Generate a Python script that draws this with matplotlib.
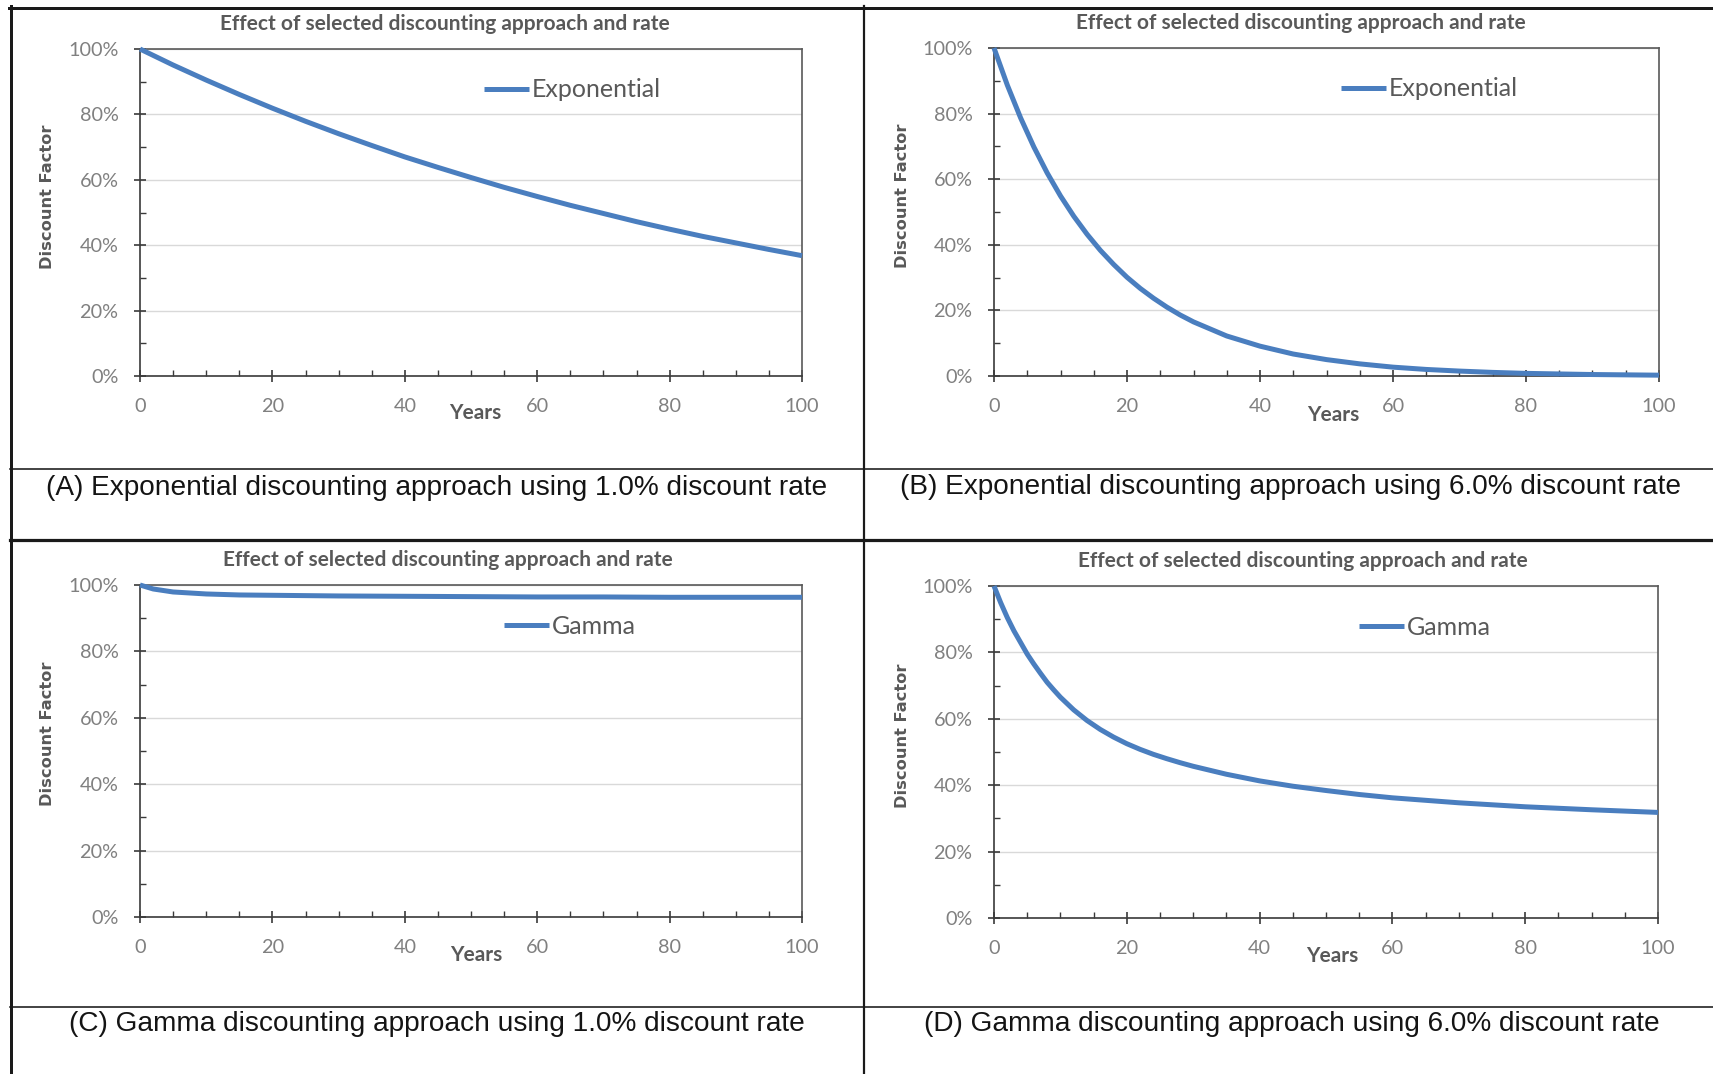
"""Four-panel discounting comparison laid out like a captioned 2x2 table."""
import matplotlib
matplotlib.use("Agg")
import matplotlib.pyplot as plt
from matplotlib.lines import Line2D
from matplotlib.ticker import MultipleLocator, FuncFormatter

# values (discount factor in %)
exp1_years = [0, 5, 10, 15, 20, 25, 30, 35, 40, 45, 50, 55, 60, 65, 70, 75, 80, 85, 90, 95, 100]
exp1_vals = [100, 95.1, 90.5, 86.1, 81.9, 77.9, 74.1, 70.5, 67.0, 63.8, 60.7,
             57.7, 54.9, 52.2, 49.7, 47.2, 44.9, 42.7, 40.7, 38.7, 36.8]

exp6_years = [0, 2, 4, 6, 8, 10, 12, 14, 16, 18, 20, 22, 24, 26, 28, 30,
              35, 40, 45, 50, 55, 60, 65, 70, 75, 80, 90, 100]
exp6_vals = [100, 88.7, 78.7, 69.8, 61.9, 54.9, 48.7, 43.2, 38.3, 34.0, 30.1,
             26.7, 23.7, 21.0, 18.6, 16.5, 12.2, 9.1, 6.7, 5.0, 3.7, 2.7,
             2.0, 1.5, 1.1, 0.8, 0.45, 0.25]

gam1_years = [0, 2, 5, 10, 15, 20, 30, 40, 50, 60, 70, 80, 90, 100]
gam1_vals = [100, 98.8, 97.9, 97.3, 97.0, 96.9, 96.7, 96.6, 96.5, 96.4, 96.4, 96.3, 96.3, 96.3]

gam6_years = [0, 1, 2, 3, 4, 5, 6, 7, 8, 9, 10, 12, 14, 16, 18, 20, 22, 24, 26,
              28, 30, 35, 40, 45, 50, 55, 60, 70, 80, 90, 100]
gam6_vals = [100, 95, 90.5, 86.5, 83, 79.5, 76.5, 73.7, 71, 68.7, 66.5, 62.7,
             59.5, 56.8, 54.5, 52.5, 50.8, 49.3, 48, 46.8, 45.7, 43.3, 41.3,
             39.7, 38.4, 37.2, 36.2, 34.7, 33.5, 32.6, 31.8]

TITLE = "Effect of selected discounting approach and rate"
captions = [
    "(A) Exponential discounting approach using 1.0% discount rate",
    "(B) Exponential discounting approach using 6.0% discount rate",
    "(C) Gamma discounting approach using 1.0% discount rate",
    "(D) Gamma discounting approach using 6.0% discount rate",
]
names = ["Exponential", "Exponential", "Gamma", "Gamma"]
series = [(exp1_years, exp1_vals), (exp6_years, exp6_vals),
          (gam1_years, gam1_vals), (gam6_years, gam6_vals)]

W, H = 1713, 1074
BLUE = "#4a7ebf"
GREY = "#595959"
TICK = "#808080"
CAL = ["Lato", "DejaVu Sans"]
NARROW = ["Liberation Sans Narrow", "Liberation Sans", "DejaVu Sans"]

# pixel layout: axes box (l, t, r, b), title, caption, ylabel, "Years", legend x
layout = [
    dict(ax=(140, 49, 802, 376), title=(445, 24), cap=(437, 488), yl=(48, 197), xl=(475, 413), leg=0.52),
    dict(ax=(994, 48, 1659, 376), title=(1301, 23), cap=(1291, 487), yl=(903, 196), xl=(1333, 415), leg=0.522),
    dict(ax=(140, 585, 802, 917), title=(448, 560), cap=(437, 1024), yl=(48, 734), xl=(476, 955), leg=0.55),
    dict(ax=(994, 586, 1658, 918), title=(1303, 561), cap=(1292, 1024), yl=(903, 736), xl=(1332, 956), leg=0.55),
]


def fx(x):
    return x / W


def fy(y):
    return 1 - y / H


fig = plt.figure(figsize=(W / 100, H / 100), dpi=100)
fig.patch.set_facecolor("white")

for (xs, ys), name, cap, lo in zip(series, names, captions, layout):
    l, t, r, b = lo["ax"]
    ax = fig.add_axes([fx(l), fy(b), (r - l) / W, (b - t) / H])
    ax.plot(xs, ys, color=BLUE, lw=3.6, label=name, solid_capstyle="butt",
            solid_joinstyle="round", clip_on=False, zorder=3)
    ax.set_xlim(0, 100)
    ax.set_ylim(0, 100)
    ax.xaxis.set_major_locator(MultipleLocator(20))
    ax.xaxis.set_minor_locator(MultipleLocator(5))
    ax.yaxis.set_major_locator(MultipleLocator(20))
    ax.yaxis.set_minor_locator(MultipleLocator(10))
    ax.yaxis.set_major_formatter(FuncFormatter(lambda v, p: f"{v:.0f}%"))
    ax.grid(axis="y", which="major", color="#d9d9d9", lw=1.0)
    ax.set_axisbelow(True)
    for s in ("left", "bottom"):
        ax.spines[s].set_color("#3a3a3a")
        ax.spines[s].set_linewidth(1.2)
    for s in ("top", "right"):
        ax.spines[s].set_color("#595959")
        ax.spines[s].set_linewidth(1.2)
    ax.tick_params(which="major", direction="inout", length=9, width=1.2,
                   color="#3a3a3a", labelcolor=TICK, labelsize=14.3, pad=11)
    ax.tick_params(which="minor", direction="in", length=4, width=1.0, color="#3a3a3a")
    for lab in ax.get_xticklabels() + ax.get_yticklabels():
        lab.set_family(CAL)

    ax.legend(loc="center left", bbox_to_anchor=(lo["leg"], 0.875), frameon=False,
              prop={"family": CAL, "size": 18}, labelcolor=GREY,
              handlelength=1.8, handletextpad=0.12, borderpad=0, borderaxespad=0)

    fig.text(fx(lo["title"][0]), fy(lo["title"][1]), TITLE, ha="center", va="center",
             family=CAL, weight="bold", size=15, color=GREY)
    fig.text(fx(lo["cap"][0]), fy(lo["cap"][1]), cap, ha="center", va="center",
             family=NARROW, size=20.2, color="#141414")
    fig.text(fx(lo["yl"][0]), fy(lo["yl"][1]), "Discount Factor", rotation=90,
             ha="center", va="center", family="DejaVu Sans", weight="bold",
             size=11.7, color=GREY)
    fig.text(fx(lo["xl"][0]), fy(lo["xl"][1]), "Years", ha="center", va="center",
             family=CAL, weight="bold", size=15, color=GREY)

# table rules
rules = [
    ((9, W), (7.5, 7.5), 3.0),      # top border
    ((10.5, 10.5), (6, H), 3.0),    # left border
    ((864, 864), (6, H), 2.2),      # column divider
    ((10, W), (469, 469), 1.6),     # caption line, row 1
    ((10, W), (540, 540), 3.2),     # row divider
    ((10, W), (1007, 1007), 1.6),   # caption line, row 2
]
for xs, ys, lw in rules:
    fig.add_artist(Line2D([fx(v) for v in xs], [fy(v) for v in ys],
                          transform=fig.transFigure, color="#1a1a1a", lw=lw * 0.72))

fig.savefig("out.png", dpi=100)
